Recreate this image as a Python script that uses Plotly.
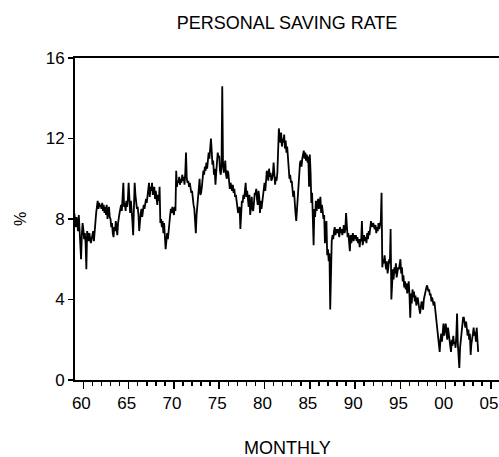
import plotly.graph_objects as go

start_year = 1959

rate_1959_1968 = [
    8.3, 8.0, 7.6, 8.1, 7.8, 7.4, 8.2, 7.5, 7.0, 6.0, 7.2, 7.8,
    7.5, 7.0, 7.3, 6.8, 5.5, 7.4, 7.2, 6.9, 7.3, 7.1, 6.8, 7.0,
    7.2, 7.4, 6.9, 7.6, 8.0, 8.3, 8.6, 8.9, 8.5, 8.8, 8.6, 8.7,
    8.5, 8.8, 8.4, 8.7, 8.3, 8.6, 8.2, 8.7, 8.0, 8.4, 8.6, 8.1,
    8.0, 7.6, 7.8, 7.3, 7.1, 7.6, 7.4, 7.9, 7.5, 7.2, 7.8, 8.2,
    8.3, 8.5, 8.7, 8.4, 8.9, 9.8, 8.6, 8.8, 8.4, 8.9, 8.6, 9.0,
    9.8, 8.7, 8.3, 8.9, 8.5, 7.9, 7.2, 8.6, 9.8, 9.2, 8.8, 8.5,
    8.6, 8.2, 7.4, 8.0, 8.3, 8.5, 8.1, 8.4, 8.7, 8.5, 8.9, 9.0,
    8.8, 9.3, 9.5, 9.8, 9.1, 9.6, 9.4, 9.8, 9.2, 9.5, 9.6, 9.0,
    9.4, 9.0, 8.7, 9.2, 8.9, 9.6, 7.8, 8.0, 7.6, 7.9, 7.3, 7.8,
]
rate_1969_1978 = [
    7.2, 6.5, 6.9, 7.3, 7.0, 7.6, 8.0, 8.2, 8.5, 8.3, 8.6, 8.3,
    8.2, 8.6, 8.4, 10.4, 9.6, 9.9, 9.8, 10.1, 9.7, 10.0, 9.8, 10.2,
    9.9, 10.1, 9.7, 10.3, 11.3, 10.0, 9.8, 9.9, 9.6, 9.8, 9.5, 9.3,
    9.4, 8.9, 8.7, 8.5, 7.9, 7.3, 8.2, 8.6, 9.0, 9.6, 10.0, 9.2,
    9.3, 9.6, 9.9, 10.4, 10.2, 10.6, 10.4, 10.8, 10.5, 10.9, 11.3, 11.0,
    11.5, 12.0, 11.4, 10.7, 10.9, 10.2, 10.5, 9.7, 10.3, 10.8, 11.3, 11.1,
    11.1, 10.4, 10.2, 10.6, 14.6, 10.8, 10.3, 10.5, 10.9, 10.2, 10.0, 10.4,
    10.3, 9.9, 9.5, 9.8, 9.6, 9.4, 9.7, 9.3, 9.5, 9.1, 9.2, 8.9,
    8.7, 8.3, 8.5, 8.6, 7.5, 8.4, 8.9, 8.8, 9.2, 9.0, 9.4, 9.8,
    9.1, 9.4, 9.0, 8.6, 9.2, 8.2, 8.6, 9.1, 8.5, 8.4, 8.8, 9.3,
]
rate_1979_1988 = [
    9.2, 9.5, 9.0, 8.7, 9.4, 9.1, 8.3, 8.9, 8.5, 8.8, 9.2, 9.5,
    9.8, 9.4, 10.0, 10.4, 10.2, 9.9, 10.5, 10.1, 10.3, 9.9, 10.0, 10.2,
    10.8, 10.0, 9.7, 10.1, 9.9, 10.3, 12.2, 12.5, 12.0, 11.8, 12.3, 11.6,
    12.0, 11.8, 12.2, 11.5, 11.9, 11.3, 11.6, 11.0, 10.5, 10.0, 10.2, 9.8,
    9.9, 9.6, 9.1, 9.4, 8.6, 8.3, 7.9, 8.6, 8.9, 9.4, 10.1, 10.8,
    10.9, 10.6, 11.0, 11.2, 11.4, 11.0, 11.3, 10.9, 11.2, 10.8, 11.1, 9.6,
    11.2, 10.3, 8.8, 9.3, 7.8, 6.7, 8.5, 8.1, 8.9, 8.4, 8.7, 9.0,
    8.5, 8.9, 9.1, 8.3, 8.7, 8.4, 8.0, 8.2, 6.8, 7.6, 7.9, 6.2,
    6.5, 5.9, 6.3, 3.5, 6.6, 6.9, 7.2, 7.0, 7.4, 7.6, 7.2, 7.5,
    7.3, 7.5, 7.4, 7.1, 7.6, 7.3, 7.5, 7.2, 7.4, 7.7, 7.3, 7.5,
]
rate_1989_1998 = [
    8.3, 7.4, 7.1, 7.3, 7.0, 6.4, 7.2, 6.8, 7.1, 7.3, 6.9, 7.2,
    7.0, 7.2, 6.9, 7.1, 6.8, 7.0, 6.6, 7.0, 6.9, 7.9, 6.7, 7.1,
    7.2, 6.9, 7.1, 6.8, 7.3, 7.0, 7.4, 7.2, 7.5, 7.9, 7.6, 7.7,
    7.8, 7.6, 7.5, 7.7, 7.3, 7.6, 7.4, 7.8, 7.5, 7.7, 7.9, 9.3,
    5.6, 6.0, 5.8, 6.2, 5.7, 5.5, 5.9, 5.3, 5.6, 6.0, 5.8, 7.5,
    4.0, 5.2, 5.5, 5.0, 5.6, 5.3, 5.8, 5.1, 5.4, 5.6, 5.5, 5.9,
    6.0, 5.3, 5.6, 4.9, 5.2, 4.6, 4.9, 4.5, 4.8, 4.3, 4.7, 4.9,
    4.2, 3.1, 4.3, 3.8, 4.5, 4.1, 4.4, 3.9, 4.2, 3.7, 3.9, 4.1,
    3.8, 3.5, 3.3, 3.6, 3.9, 3.7, 3.5, 4.0, 4.2, 4.3, 4.6, 4.7,
    4.6, 4.4, 4.5, 4.2, 4.3, 3.9, 4.1, 3.8, 3.7, 3.9, 3.5, 3.3,
]
rate_1999_2003 = [
    2.8, 2.7, 2.2, 1.8, 1.4, 2.0, 2.3, 1.9, 2.6, 2.8, 2.2, 2.5,
    2.8, 2.4, 2.0, 2.6, 2.2, 1.8, 1.6, 1.4, 2.0, 1.7, 2.2, 1.8,
    1.9, 1.6, 2.2, 3.3, 1.8, 1.4, 0.6, 1.6, 2.0, 2.4, 2.7, 3.1,
    3.1, 2.8, 2.6, 2.9, 2.4, 2.2, 2.5, 2.0, 2.3, 1.25, 1.8, 2.2,
    2.3, 2.6, 2.2, 2.4, 1.9, 2.6, 2.0, 1.4,
]

tick_years = [1960, 1965, 1970, 1975, 1980, 1985, 1990, 1995, 2000, 2005]
tick_labels = ["60", "65", "70", "75", "80", "85", "90", "95", "00", "05"]
y_ticks = [0, 4, 8, 12, 16]

rate = rate_1959_1968 + rate_1969_1978 + rate_1979_1988 + rate_1989_1998 + rate_1999_2003
t = [start_year + i / 12.0 for i in range(len(rate))]

FONT = "Liberation Sans, Arial, sans-serif"

# Plot area spans x 75..499 and y 58..380 of the 499x457 page.
L, T, R, B = 75, 58, 0, 77
W, H = 499, 457
plot_w = W - L - R
plot_h = H - T - B

fig = go.Figure()
fig.add_trace(go.Scatter(x=t, y=rate, mode="lines",
                         line=dict(color="black", width=1.8),
                         showlegend=False, hoverinfo="skip"))

fig.update_layout(
    template="none",
    width=W, height=H,
    margin=dict(l=L, r=R, t=T, b=B, autoexpand=False),
    paper_bgcolor="white", plot_bgcolor="white",
    font=dict(family=FONT, size=17, color="black"),
    hovermode=False,
    title=dict(text="PERSONAL SAVING RATE", x=0.5, xref="paper",
               y=1 - 23 / H, yref="container", yanchor="middle",
               xanchor="center", font=dict(size=18, color="black")),
    xaxis=dict(range=[1959.08, 2005.88], tickvals=tick_years, ticktext=tick_labels,
               automargin=False, ticklabelshift=-2,
               showgrid=False, zeroline=False, showline=True, linecolor="black",
               linewidth=2, mirror=True, ticks="outside", ticklen=7, tickwidth=1.5,
               tickcolor="black", tickfont=dict(size=17),
               minor=dict(dtick=1, tick0=1960, ticks="outside", ticklen=4,
                          tickwidth=1.5, tickcolor="black", showgrid=False)),
    yaxis=dict(range=[0, 16], tickvals=y_ticks, showgrid=False, zeroline=False,
               automargin=False,
               showline=True, linecolor="black", linewidth=2, ticks="outside",
               ticklen=5, tickwidth=1.5, tickcolor="black", tickfont=dict(size=17)),
    annotations=[
        dict(text="MONTHLY", xref="paper", yref="paper", x=0.5,
             y=-(448 - (T + plot_h)) / plot_h,
             xanchor="center", yanchor="middle", showarrow=False,
             font=dict(size=18, color="black")),
        dict(text="%", xref="paper", yref="paper", x=(20 - L) / plot_w, y=0.5,
             xanchor="center", yanchor="middle", showarrow=False, textangle=-90,
             font=dict(size=16, color="black")),
    ],
)

fig.write_html(
    "out.html",
    config={"displayModeBar": False, "staticPlot": True},
    post_script="document.body.style.margin='0';document.body.style.overflow='hidden';",
)
